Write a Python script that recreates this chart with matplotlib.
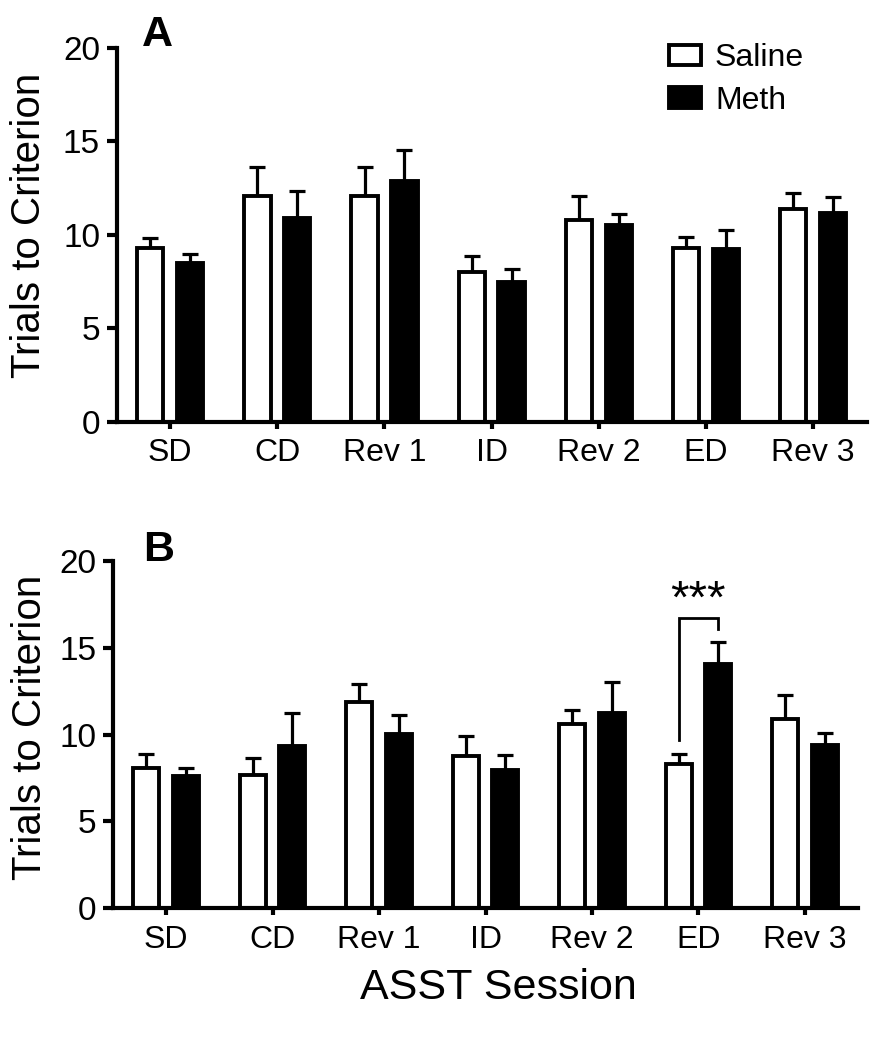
import numpy as np
import matplotlib
matplotlib.use('Agg')
import matplotlib.pyplot as plt

plt.rcParams['font.family'] = ['Liberation Sans', 'DejaVu Sans']

# ASST sessions
sessions = ['SD', 'CD', 'Rev 1', 'ID', 'Rev 2', 'ED', 'Rev 3']

# Panel A: means and SEM
saline_a = [9.3, 12.1, 12.1, 8.0, 10.8, 9.3, 11.4]
saline_a_sem = [0.55, 1.55, 1.55, 0.85, 1.3, 0.6, 0.85]
meth_a = [8.5, 10.9, 12.9, 7.5, 10.5, 9.25, 11.15]
meth_a_sem = [0.5, 1.45, 1.65, 0.65, 0.6, 1.0, 0.9]

# Panel B: means and SEM
saline_b = [8.1, 7.7, 11.85, 8.75, 10.6, 8.3, 10.9]
saline_b_sem = [0.8, 0.95, 1.05, 1.15, 0.8, 0.6, 1.4]
meth_b = [7.6, 9.35, 10.05, 7.95, 11.25, 14.05, 9.4]
meth_b_sem = [0.45, 1.9, 1.1, 0.85, 1.75, 1.3, 0.7]

fig = plt.figure(figsize=(8.74, 10.5), dpi=100)
ax_a = fig.add_axes([0.1335, 0.5984, 0.858, 0.3559])
ax_b = fig.add_axes([0.1293, 0.135, 0.8524, 0.3308])

x = np.arange(len(sessions))
off = 0.186
w = 0.245


def draw_panel(ax, sal, sal_sem, met, met_sem):
    ax.errorbar(x - off, sal, yerr=[np.zeros(len(sal)), sal_sem], fmt='none',
                ecolor='black', elinewidth=2.3, capsize=5.5, capthick=2.3, zorder=1)
    ax.errorbar(x + off, met, yerr=[np.zeros(len(met)), met_sem], fmt='none',
                ecolor='black', elinewidth=2.3, capsize=5.5, capthick=2.3, zorder=1)
    b1 = ax.bar(x - off, sal, width=w, color='white', edgecolor='black',
                linewidth=2.8, zorder=2, label='Saline')
    b2 = ax.bar(x + off, met, width=w, color='black', edgecolor='black',
                linewidth=2.8, zorder=2, label='Meth')
    ax.set_ylim(0, 20)
    ax.set_xlim(-0.5, 6.5)
    ax.set_yticks([0, 5, 10, 15, 20])
    ax.set_xticks(x)
    ax.set_xticklabels(sessions)
    for s in ['top', 'right']:
        ax.spines[s].set_visible(False)
    for s in ['left', 'bottom']:
        ax.spines[s].set_linewidth(3.0)
    ax.tick_params(axis='y', length=7, width=3.0, labelsize=24, pad=5)
    ax.tick_params(axis='x', length=5, width=3.0, labelsize=23, pad=7)
    ax.set_ylabel('Trials to Criterion', fontsize=29)
    return b1, b2


b1, b2 = draw_panel(ax_a, saline_a, saline_a_sem, meth_a, meth_a_sem)
draw_panel(ax_b, saline_b, saline_b_sem, meth_b, meth_b_sem)

ax_a.yaxis.set_label_coords(-0.091, 0.526)
ax_b.yaxis.set_label_coords(-0.086, 0.52)

ax_b.set_xlabel('ASST Session', fontsize=31)
ax_b.xaxis.set_label_coords(0.517, -0.172)

ax_a.text(0.033, 1.004, 'A', transform=ax_a.transAxes, fontsize=31,
          fontweight='bold', ha='left', va='baseline')
ax_b.text(0.041, 1.0, 'B', transform=ax_b.transAxes, fontsize=31,
          fontweight='bold', ha='left', va='baseline')

leg = ax_a.legend(handles=[b1, b2], loc='upper left', bbox_to_anchor=(0.719, 1.047),
                  frameon=False, fontsize=23, handlelength=1.0, handleheight=0.62,
                  handletextpad=0.45, labelspacing=0.4, borderaxespad=0)

# significance bracket at ED
ed = sessions.index('ED')
bracket_y = 16.7
ax_b.plot([ed - off, ed - off, ed + off, ed + off],
          [saline_b[ed] + saline_b_sem[ed] + 0.8, bracket_y, bracket_y,
           meth_b[ed] + meth_b_sem[ed] + 0.75],
          color='black', linewidth=2.0, solid_joinstyle='miter')
ax_b.text(ed, 17.7, '***', ha='center', va='center', fontsize=34)

fig.savefig('out.png', dpi=100)
